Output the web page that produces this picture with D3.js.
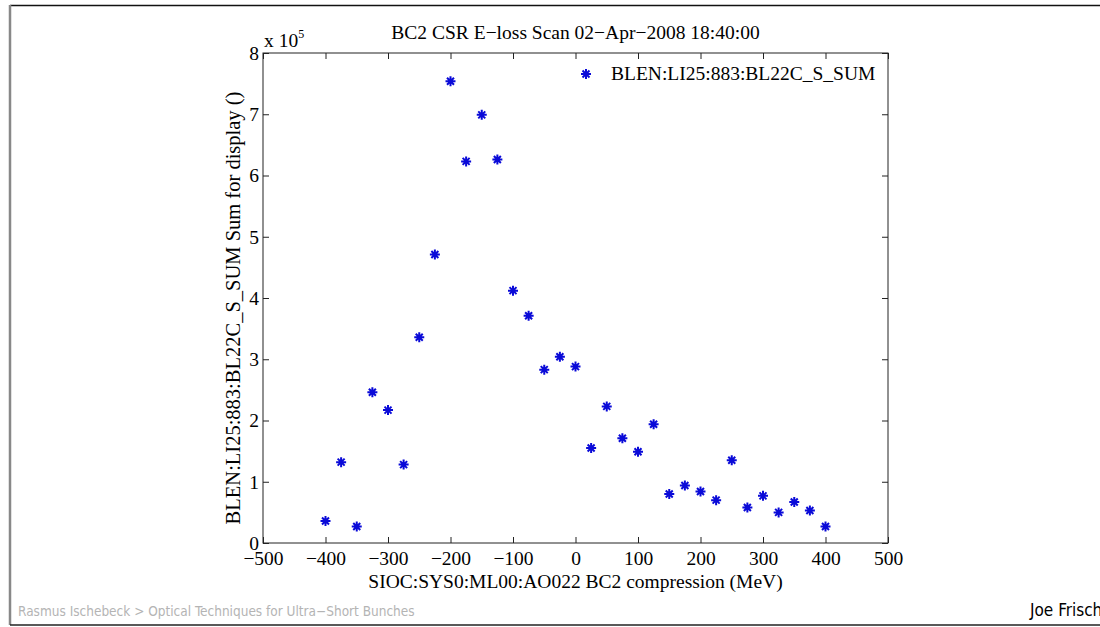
<!DOCTYPE html>
<html>
<head>
<meta charset="utf-8">
<script src="https://cdn.jsdelivr.net/npm/d3@7"></script>
<style>
  body { margin: 0; background: #fff; }
  svg text { font-family: "Liberation Serif", "Times New Roman", serif; }
</style>
</head>
<body>
<script>
// Data (units of 1e5)
const compression = [-400, -375, -350, -325, -300, -275, -250, -225, -200, -175, -150, -125, -100, -75, -50, -25,
  0, 25, 50, 75, 100, 125, 150, 175, 200, 225, 250, 275, 300, 325, 350, 375, 400];
const blenSum = [0.36, 1.32, 0.27, 2.46, 2.17, 1.28, 3.36, 4.71, 7.54, 6.23, 6.99, 6.26, 4.12, 3.71, 2.83, 3.04,
  2.88, 1.55, 2.23, 1.71, 1.49, 1.94, 0.80, 0.94, 0.84, 0.70, 1.35, 0.58, 0.77, 0.50, 0.67, 0.53, 0.27];
const xTicks = [-500, -400, -300, -200, -100, 0, 100, 200, 300, 400, 500];
const yTicks = [0, 1, 2, 3, 4, 5, 6, 7, 8];

const width = 1100, height = 627;
const plot = { left: 263, right: 888, top: 53, bottom: 543 };
const fs = "19.5px";

const svg = d3.select("body").append("svg")
  .attr("width", width)
  .attr("height", height);

// slide frame
svg.append("line").attr("x1", 10).attr("x2", width).attr("y1", 5.5).attr("y2", 5.5)
  .attr("stroke", "#111").attr("stroke-width", 1.5);
svg.append("line").attr("x1", 10).attr("x2", 10).attr("y1", 5).attr("y2", 625)
  .attr("stroke", "#888").attr("stroke-width", 2.5);
svg.append("line").attr("x1", 10).attr("x2", width).attr("y1", 625).attr("y2", 625)
  .attr("stroke", "#222").attr("stroke-width", 1.5);

const x = d3.scaleLinear().domain([-500, 500]).range([plot.left, plot.right]);
const y = d3.scaleLinear().domain([0, 8]).range([plot.bottom, plot.top]);

// box
svg.append("rect")
  .attr("x", plot.left).attr("y", plot.top)
  .attr("width", plot.right - plot.left).attr("height", plot.bottom - plot.top)
  .attr("fill", "none").attr("stroke", "#222").attr("stroke-width", 1);

const tickLen = 6;
const styleAxis = g => {
  g.select(".domain").remove();
  g.selectAll(".tick line").attr("stroke", "#222");
  g.selectAll(".tick text").attr("fill", "#000")
    .style("font-family", "'Liberation Serif', serif").style("font-size", fs);
};

// bottom axis, ticks inward
svg.append("g")
  .attr("transform", `translate(0,${plot.bottom})`)
  .call(d3.axisBottom(x).tickValues(xTicks).tickSizeInner(-tickLen).tickSizeOuter(0)
    .tickFormat(d => d < 0 ? "\u2212" + Math.abs(d) : d).tickPadding(0))
  .call(styleAxis)
  .call(g => g.selectAll(".tick text").attr("y", 22).attr("dy", 0));

// top axis ticks only
svg.append("g")
  .attr("transform", `translate(0,${plot.top})`)
  .call(d3.axisTop(x).tickValues(xTicks).tickSizeInner(-tickLen).tickSizeOuter(0).tickFormat(""))
  .call(styleAxis);

// left axis
svg.append("g")
  .attr("transform", `translate(${plot.left},0)`)
  .call(d3.axisLeft(y).tickValues(yTicks).tickSizeInner(-tickLen).tickSizeOuter(0).tickPadding(4))
  .call(styleAxis)
  .call(g => g.selectAll(".tick text").attr("x", -4));

// right axis ticks only
svg.append("g")
  .attr("transform", `translate(${plot.right},0)`)
  .call(d3.axisRight(y).tickValues(yTicks).tickSizeInner(-tickLen).tickSizeOuter(0).tickFormat(""))
  .call(styleAxis);

// exponent label
const expo = svg.append("text").attr("x", 264).attr("y", 47).style("font-size", fs);
expo.append("tspan").text("x 10");
expo.append("tspan").attr("dy", -9).style("font-size", "12px").text("5");

// title
svg.append("text")
  .attr("x", (plot.left + plot.right) / 2).attr("y", 39)
  .attr("text-anchor", "middle").style("font-size", fs)
  .text("BC2 CSR E\u2212loss Scan 02\u2212Apr\u22122008 18:40:00");

// axis labels
svg.append("text")
  .attr("x", (plot.left + plot.right) / 2).attr("y", 588)
  .attr("text-anchor", "middle").style("font-size", fs)
  .text("SIOC:SYS0:ML00:AO022 BC2 compression (MeV)");

svg.append("text")
  .attr("transform", `translate(240,${(plot.top + plot.bottom) / 2 + 10}) rotate(-90)`)
  .attr("text-anchor", "middle").style("font-size", "20.5px")
  .text("BLEN:LI25:883:BL22C_S_SUM Sum for display ()");

// asterisk marker
const r = 5;
const asterisk = `M${-r},0L${r},0M0,${-r}L0,${r}` +
  `M${-r * 0.7},${-r * 0.7}L${r * 0.7},${r * 0.7}M${-r * 0.7},${r * 0.7}L${r * 0.7},${-r * 0.7}`;
const blue = "#0a0ad8";

svg.append("g").selectAll("path")
  .data(d3.zip(compression, blenSum))
  .join("path")
  .attr("transform", d => `translate(${x(d[0])},${y(d[1])})`)
  .attr("d", asterisk)
  .attr("stroke", blue).attr("stroke-width", 2).attr("fill", "none");

// legend
svg.append("path")
  .attr("transform", "translate(586,74)")
  .attr("d", asterisk)
  .attr("stroke", blue).attr("stroke-width", 2).attr("fill", "none");
svg.append("text")
  .attr("x", 611).attr("y", 80).style("font-size", fs)
  .text("BLEN:LI25:883:BL22C_S_SUM");

// slide footer
svg.append("text")
  .attr("x", 18).attr("y", 616)
  .style("font-family", "'DejaVu Sans Condensed', 'DejaVu Sans', sans-serif")
  .style("font-size", "13.5px").attr("fill", "#b4b4b4")
  .text("Rasmus Ischebeck > Optical Techniques for Ultra\u2212Short Bunches");
svg.append("text")
  .attr("x", 1030).attr("y", 616)
  .style("font-family", "'DejaVu Sans Condensed', 'DejaVu Sans', sans-serif")
  .style("font-size", "17px").attr("fill", "#000")
  .text("Joe Frisch");
</script>
</body>
</html>
